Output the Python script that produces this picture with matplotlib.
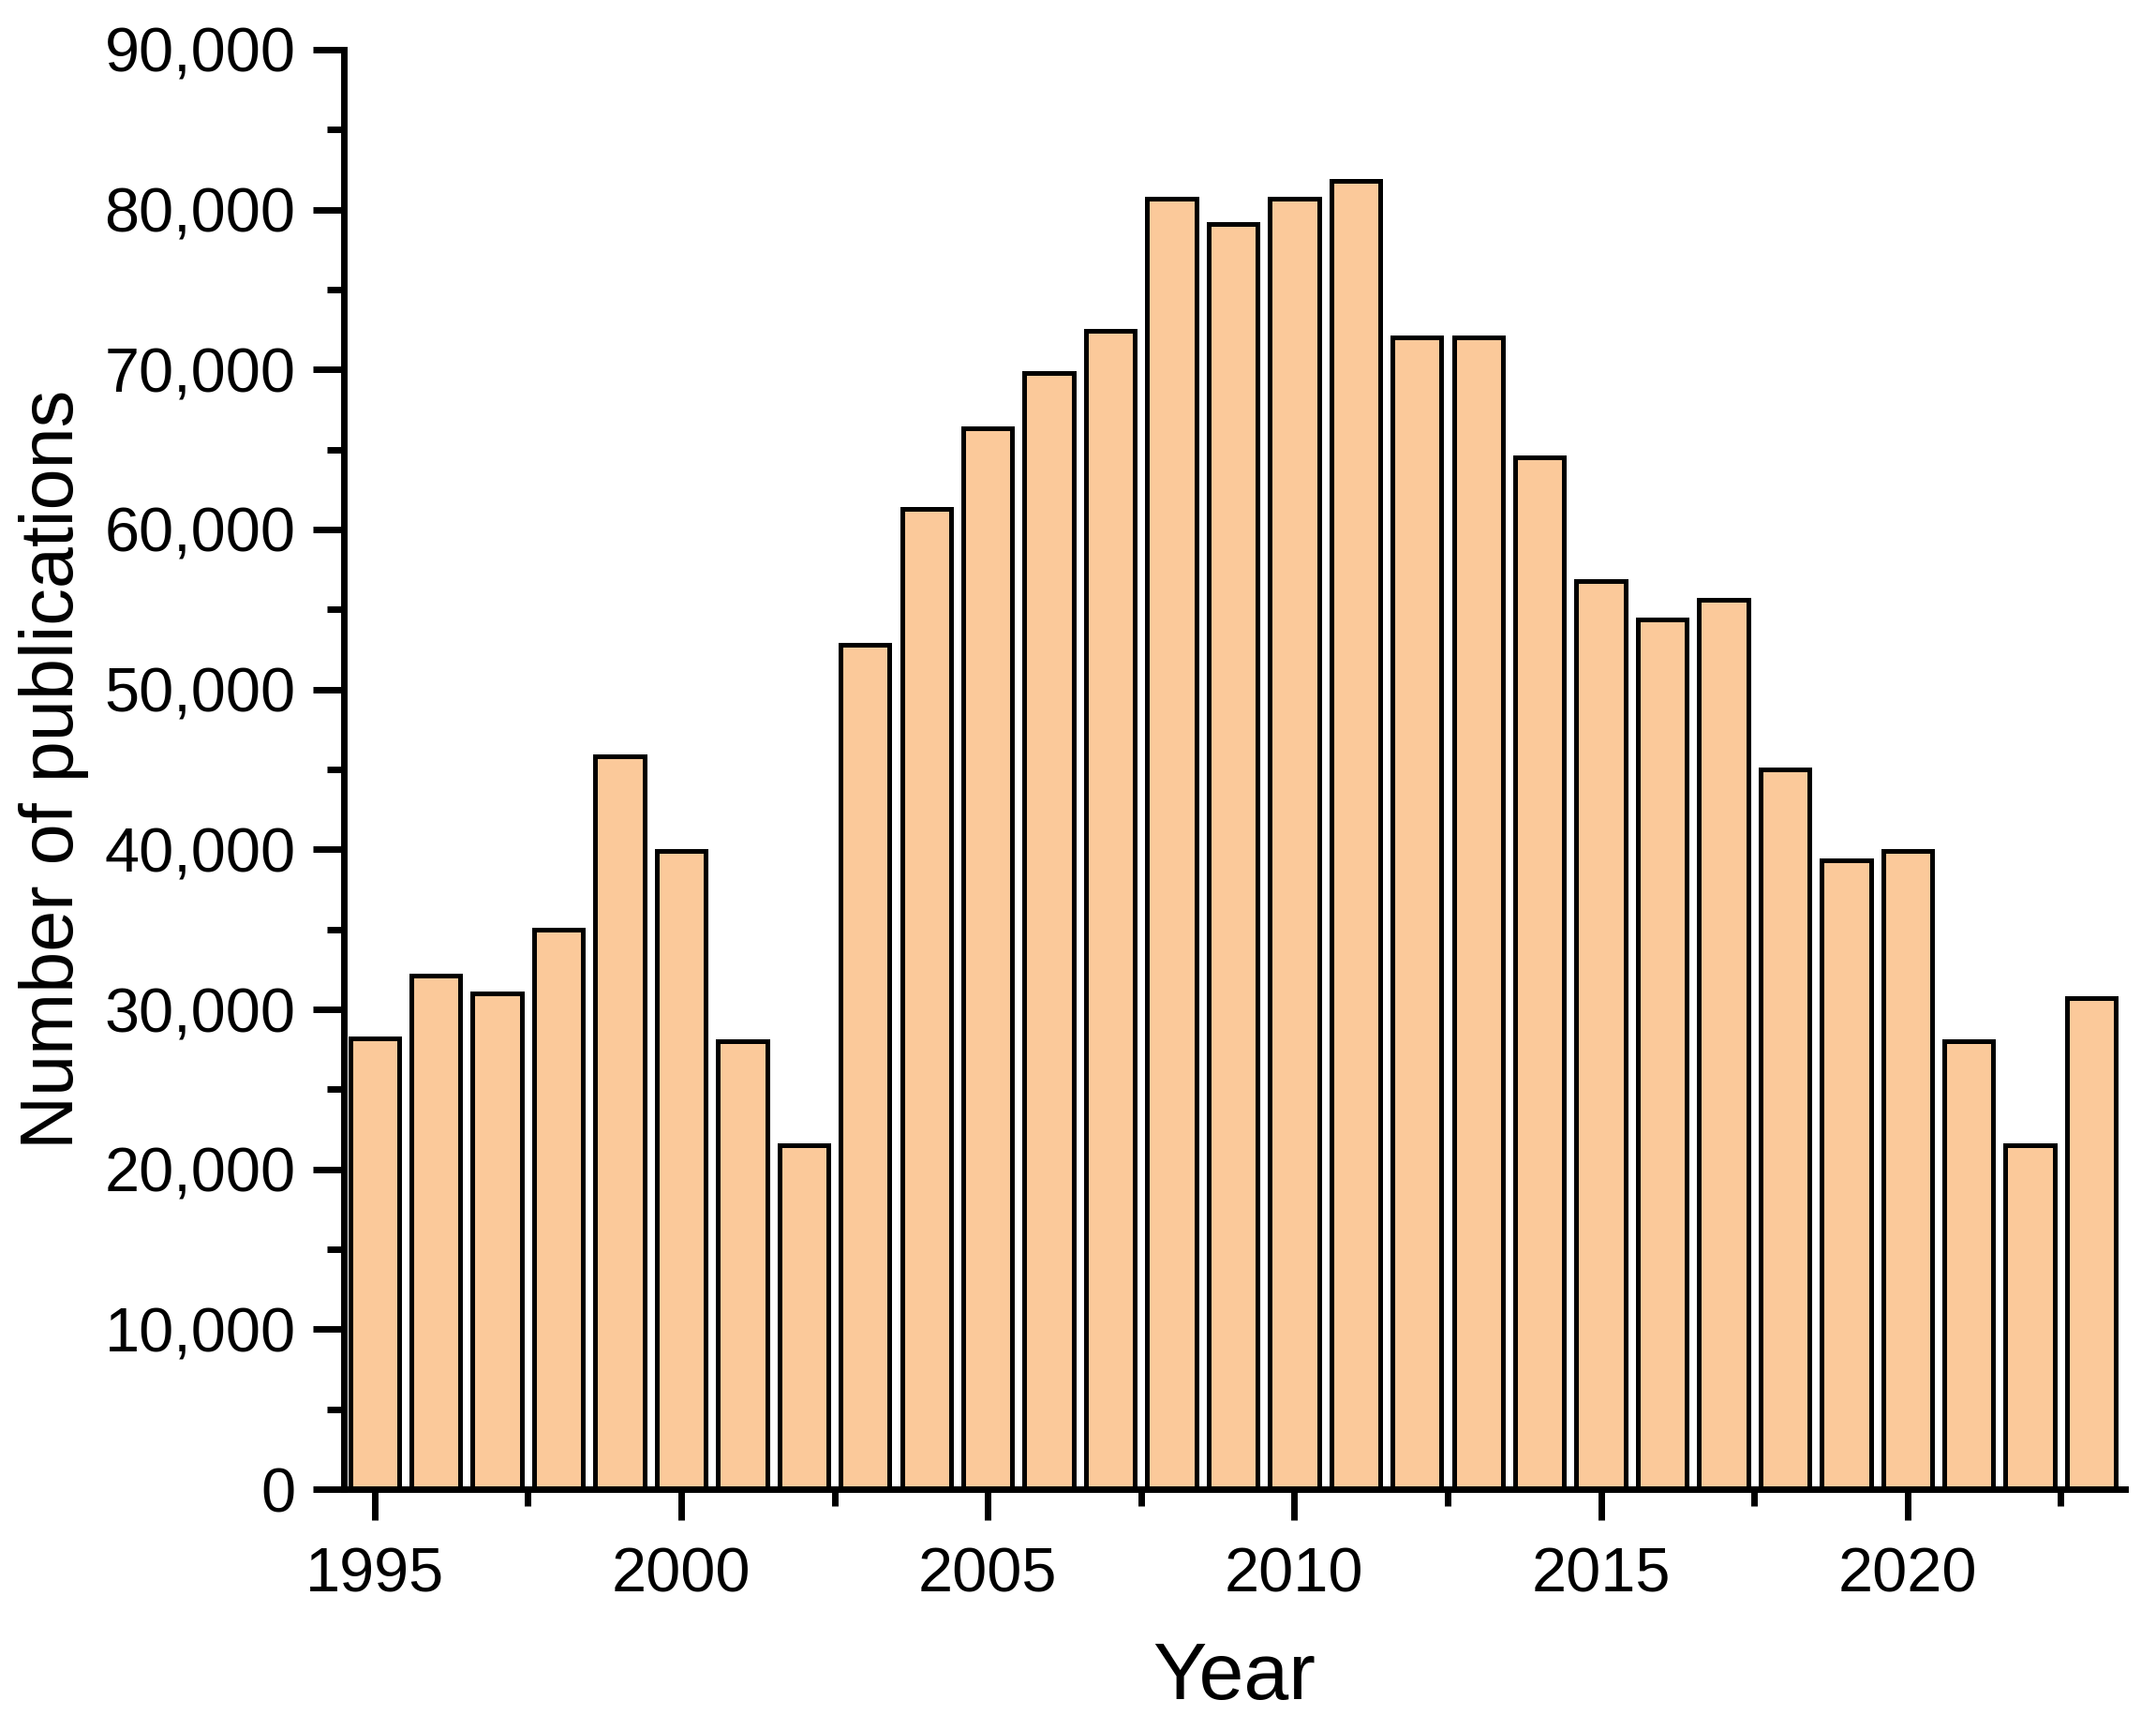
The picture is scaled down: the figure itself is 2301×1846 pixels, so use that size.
import matplotlib
matplotlib.use("Agg")
import matplotlib.pyplot as plt
from matplotlib.ticker import MultipleLocator, FuncFormatter

# publications per year
years = list(range(1995, 2024))
publications = [28200, 32100, 31000, 35000, 45800, 39900, 28000, 21500,
                52800, 61300, 66300, 69800, 72400, 80700, 79100, 80700,
                81800, 72000, 72000, 64500, 56800, 54400, 55600, 45000,
                39300, 39900, 28000, 21500, 30700]

bar_color = "#FBC99A"

plt.rcParams['font.family'] = ['Liberation Sans', 'DejaVu Sans']

fig = plt.figure(figsize=(23.01, 18.46), dpi=100)
ax = fig.add_axes([0.1595, 0.1392, 0.8262, 0.8321])

ax.bar(years, publications, width=0.8, color=bar_color,
       edgecolor="black", linewidth=3.6, zorder=2)

ax.set_xlim(1994.5, 2023.55)
ax.set_ylim(0, 90000)

ax.xaxis.set_major_locator(MultipleLocator(5))
ax.xaxis.set_minor_locator(MultipleLocator(2.5))
ax.yaxis.set_major_locator(MultipleLocator(10000))
ax.yaxis.set_minor_locator(MultipleLocator(5000))
ax.yaxis.set_major_formatter(FuncFormatter(lambda v, p: f"{int(v):,}"))

for side in ["top", "right"]:
    ax.spines[side].set_visible(False)
for side in ["left", "bottom"]:
    ax.spines[side].set_linewidth(5)

ax.tick_params(which="major", direction="out", length=24, width=5,
               labelsize=48, pad=13)
ax.tick_params(which="minor", direction="out", length=13, width=5)
ax.tick_params(axis="x", which="major", pad=20)

ax.set_xlabel("Year", fontsize=62, labelpad=28)
ax.set_ylabel("Number of publications", fontsize=57, labelpad=12)

fig.savefig("out.png", dpi=100)
